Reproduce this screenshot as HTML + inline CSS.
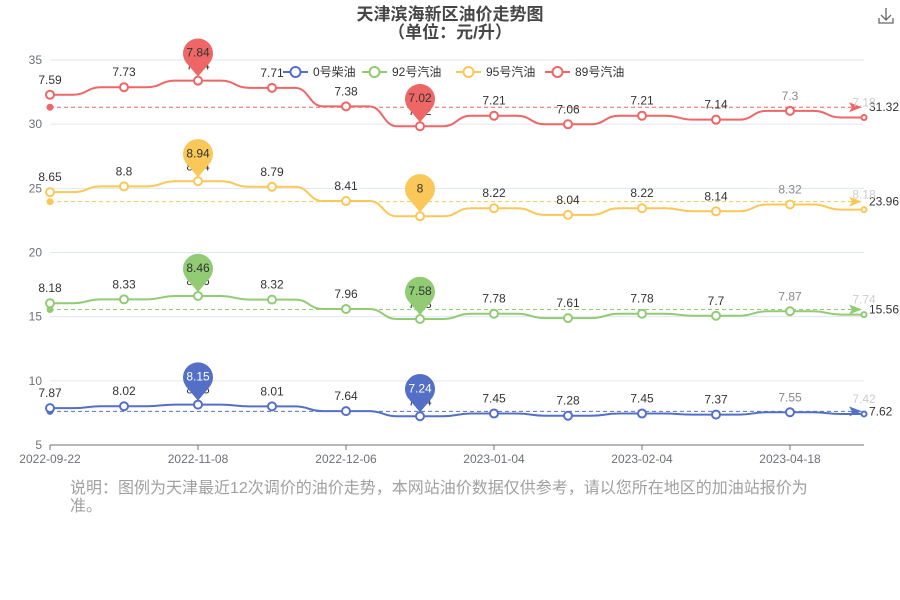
<!DOCTYPE html>
<html><head><meta charset="utf-8"><style>
body{margin:0;background:#fff;width:900px;height:600px;overflow:hidden;font-family:"Liberation Sans","Noto Sans CJK SC",sans-serif}
svg{position:absolute;left:0;top:0}
#note{position:absolute;left:70px;top:480px;width:745px;font-size:16px;line-height:18px;color:#a0a0a0}
</style></head><body>
<svg id="chart" width="900" height="600" font-family="Liberation Sans, Noto Sans CJK SC, sans-serif">
<text x="450" y="20" text-anchor="middle" font-size="17" font-weight="bold" fill="#464646">天津滨海新区油价走势图</text>
<text x="450" y="38" text-anchor="middle" font-size="17" font-weight="bold" fill="#464646">（单位：元/升）</text>
<g stroke="#666" fill="none" stroke-width="1.3"><path d="M886 8v12M881 15l5 5 5-5M879 18v5h14v-5"/></g>
<g id="grid"></g><g id="series"></g><g id="legend"></g>
</svg>
<div id="note">说明：图例为天津最近12次调价的油价走势，本网站油价数据仅供参考，请以您所在地区的加油站报价为准。</div>
<script>
const categories=["2022-09-22","2022-10-10","2022-11-08","2022-11-22","2022-12-06","2022-12-20","2023-01-04","2023-01-17","2023-02-04","2023-03-03","2023-04-18","2023-05-06"];
const yTicks=[5,10,15,20,25,30,35];
const seriesNames=["0号柴油","92号汽油","95号汽油","89号汽油"];
const diesel=[7.87,8.02,8.15,8.01,7.64,7.24,7.45,7.28,7.45,7.37,7.55,7.42];
const gas92=[8.18,8.33,8.46,8.32,7.96,7.58,7.78,7.61,7.78,7.7,7.87,7.74];
const gas95=[8.65,8.8,8.94,8.79,8.41,8.00,8.22,8.04,8.22,8.14,8.32,8.18];
const gas89=[7.59,7.73,7.84,7.71,7.38,7.02,7.21,7.06,7.21,7.14,7.30,7.18];
const avgLabels=[7.62,15.56,23.96,31.32];
const colors=["#5470c6","#91cc75","#fac858","#ee6666"];
const NS="http://www.w3.org/2000/svg";
const x0=50,x1=864;
const xs=i=>x0+i*(x1-x0)/(categories.length-1);
const ys=v=>445-(v-5)*(385/30);
function mk(tag,attrs,parent,text){const e=document.createElementNS(NS,tag);for(const k in attrs)e.setAttribute(k,attrs[k]);if(text!==undefined)e.textContent=text;parent.appendChild(e);return e;}
const grid=document.getElementById('grid');
yTicks.forEach(t=>{
  if(t>5){const l=mk('line',{x1:x0,x2:x1,y1:ys(t),y2:ys(t),stroke:'#e0e6f1'},grid);
  
  }
  const tx=mk('text',{x:42,y:ys(t)+4,'text-anchor':'end','font-size':12,fill:'#6e7079'},grid,String(t));
  
  
});
const ax=mk('line',{x1:x0,x2:x1,y1:445,y2:445,stroke:'#6e7079'},grid);


categories.forEach((c,i)=>{
  if(i%2)return;
  mk('line',{x1:xs(i),x2:xs(i),y1:445,y2:450,stroke:'#6e7079'},grid);
  const t=mk('text',{x:xs(i),y:463,'text-anchor':'middle','font-size':12,fill:'#6e7079'},grid,c);
  
  
});
const data=[diesel,gas92,gas95,gas89];
const stacked=[];let cum=diesel.map(()=>0);
data.forEach(d=>{cum=cum.map((c,i)=>c+d[i]);stacked.push(cum.slice());});
const sg=document.getElementById('series');
data.forEach((d,s)=>{
  const st=stacked[s],col=colors[s];
  const g=mk('g',{},sg);
  
  
  // avg line
  const ay=ys(avgLabels[s]);
  const al=mk('line',{x1:x0,x2:857,y1:ay,y2:ay,stroke:col,'stroke-dasharray':'4,3'},g);
  
  
  mk('circle',{cx:x0,cy:ay,r:3.5,fill:col},g);
  mk('path',{d:`M849 ${ay-5} L862 ${ay} L849 ${ay+5} L852 ${ay} Z`,fill:col},g);
  const avt=mk('text',{x:869,y:ay+4,'font-size':12,fill:'#333'},g,avgLabels[s].toFixed(2));
  
  
  // line path (middle step, smoothed)
  let p=`M${xs(0)} ${ys(st[0])}`;
  for(let i=0;i<st.length-1;i++){
    const a=xs(i),b=xs(i+1),m=(a+b)/2,ya=ys(st[i]),yb=ys(st[i+1]);
    p+=` L${m-14} ${ya} C${m} ${ya} ${m} ${yb} ${m+14} ${yb} L${b} ${yb}`;
  }
  const ln=mk('path',{d:p,fill:'none',stroke:col,'stroke-width':2},g);
  
  
  st.forEach((v,i)=>{
    const c=mk('circle',{cx:xs(i),cy:ys(v),r:i==11?2.5:4,fill:'#fff',stroke:col,'stroke-width':2},g);
    
    
    const lc=i==11?'#ccc':(i==10?'#888':'#333');
    const lb=mk('text',{x:xs(i),y:ys(v)-11,'text-anchor':'middle','font-size':12,fill:lc},g,String(d[i]));
    
    
  });
  // mark points max/min
  const mx=d.indexOf(Math.max(...d)),mn=d.indexOf(Math.min(...d));
  [mx,mn].forEach(i=>{
    const px=xs(i),py=ys(st[i]);
    const pin=mk('path',{d:`M${px} ${py-4} L${px-11} ${py-17} A15 15 0 1 1 ${px+11} ${py-17} Z`,fill:col},g);
    
    
    const pt=mk('text',{x:px,y:py-24,'text-anchor':'middle','font-size':12,fill:s==0?'#fff':'#333'},g,String(d[i]));
    
    
  });
});
const lg=document.getElementById('legend');
const lx=[283,362,456,545];
seriesNames.forEach((n,s)=>{
  const g=mk('g',{},lg);
  
  
  mk('line',{x1:lx[s],x2:lx[s]+25,y1:72,y2:72,stroke:colors[s],'stroke-width':2},g);
  mk('circle',{cx:lx[s]+12.5,cy:72,r:5,fill:'#fff',stroke:colors[s],'stroke-width':2},g);
  mk('text',{x:lx[s]+30,y:76,'font-size':12,fill:'#333'},g,n);
});
</script>
</body></html>
